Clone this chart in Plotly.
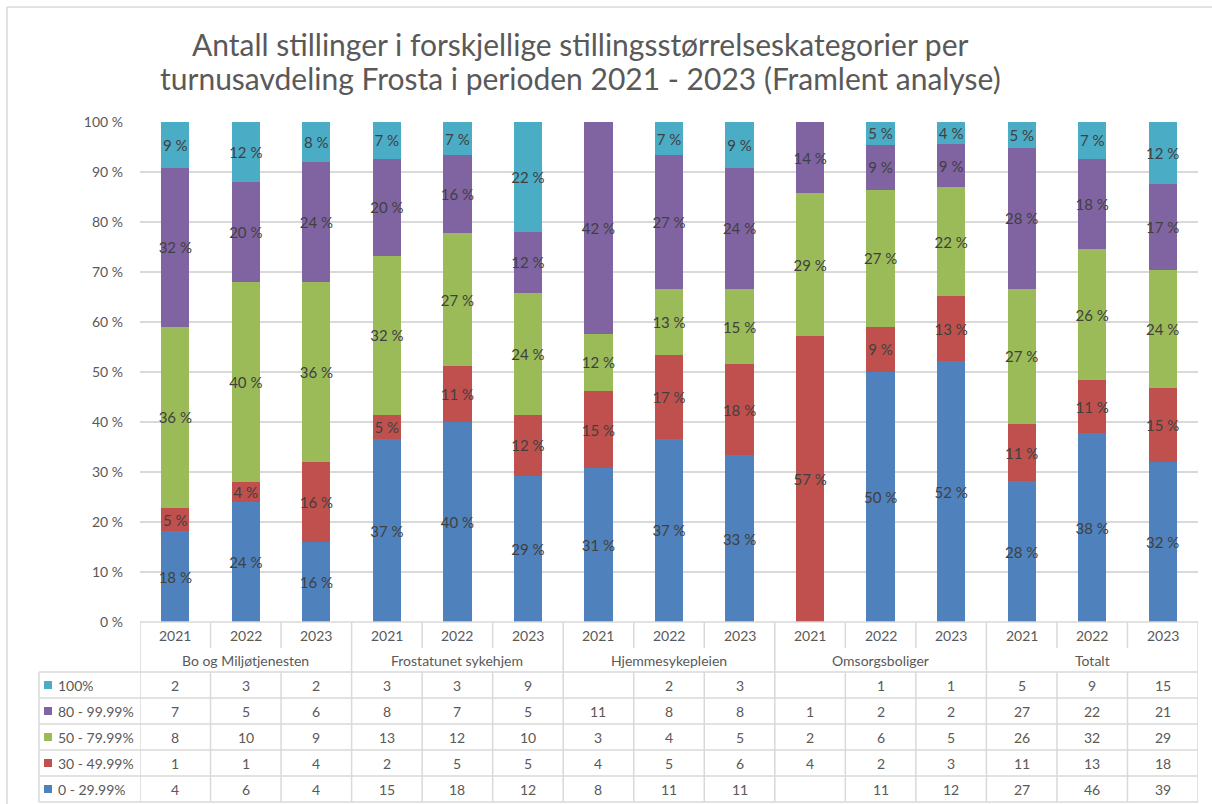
import plotly.graph_objects as go

# ---------------- data ----------------
groups = ["Bo og Miljøtjenesten", "Frostatunet sykehjem", "Hjemmesykepleien", "Omsorgsboliger", "Totalt"]
years = ["2021", "2022", "2023"]

series_names = ["100%", "80 - 99.99%", "50 - 79.99%", "30 - 49.99%", "0 - 29.99%"]
s_100 = [2, 3, 2, 3, 3, 9, None, 2, 3, None, 1, 1, 5, 9, 15]
s_80 = [7, 5, 6, 8, 7, 5, 11, 8, 8, 1, 2, 2, 27, 22, 21]
s_50 = [8, 10, 9, 13, 12, 10, 3, 4, 5, 2, 6, 5, 26, 32, 29]
s_30 = [1, 1, 4, 2, 5, 5, 4, 5, 6, 4, 2, 3, 11, 13, 18]
s_0 = [4, 6, 4, 15, 18, 12, 8, 11, 11, None, 11, 12, 27, 46, 39]
series_values = [s_100, s_80, s_50, s_30, s_0]
series_colors = ["#4BACC6", "#8064A2", "#9BBB59", "#C0504D", "#4F81BD"]

y_ticks = list(range(0, 101, 10))

# ---------------- geometry helpers ----------------
W, H = 1212, 804
L, R, T, B = 140, 1198, 122, 622
PW, PH = R - L, B - T


def px(xp):
    return (xp - L) / PW


def py(yp):
    return (B - yp) / PH


cats = [f"{g} {y}" for g in groups for y in years]
xpos = list(range(len(cats)))
totals = [sum(v[i] or 0 for v in series_values) for i in xpos]

FONT = "Lato"
GRAY = "#595959"
LINE = "#d9d9d9"

fig = go.Figure()
# stack from bottom: 0-29.99 first
for name, vals, col in reversed(list(zip(series_names, series_values, series_colors))):
    texts = []
    for i, v in enumerate(vals):
        if v:
            texts.append(f"{round(v / totals[i] * 100):.0f} %")
        else:
            texts.append("")
    fig.add_trace(go.Bar(
        x=xpos, y=[v if v is not None else 0 for v in vals], name=name,
        marker=dict(color=col, line=dict(width=0)),
        text=texts, textposition="inside", insidetextanchor="middle",
        textangle=0, textfont=dict(family=FONT, size=15, color="#404040"),
        cliponaxis=False, hoverinfo="skip",
    ))

fig.update_layout(
    width=W, height=H,
    margin=dict(l=L, r=W - R, t=T, b=H - B),
    barmode="stack", barnorm="percent", bargap=0.6,
    plot_bgcolor="white", paper_bgcolor="white",
    showlegend=False,
    uniformtext=dict(minsize=15, mode="show"),
    font=dict(family=FONT, size=14, color=GRAY),
)
fig.update_xaxes(range=[-0.5, len(cats) - 0.5], showticklabels=False, showgrid=False,
                 zeroline=False, showline=False, ticks="")
fig.update_yaxes(range=[0, 100.01], tickvals=y_ticks, ticktext=[f"{v} %" for v in y_ticks],
                 showgrid=True, gridcolor=LINE, gridwidth=1.5, zeroline=False,
                 showline=False, ticks="", ticklabelstandoff=16,
                 tickfont=dict(family=FONT, size=14, color=GRAY))

shapes = []
annotations = []


def hline(y, x0p, x1p):
    shapes.append(dict(type="line", xref="paper", yref="paper", x0=px(x0p), x1=px(x1p),
                       y0=py(y), y1=py(y), line=dict(color=LINE, width=1.5)))


def vline_x(xv, y0, y1):
    shapes.append(dict(type="line", xref="x", yref="paper", x0=xv, x1=xv,
                       y0=py(y0), y1=py(y1), line=dict(color=LINE, width=1.5)))


# axis line and table rows
hline(B, L, R)
row_lines = [672, 698, 724, 750, 776, 802]
for yl in row_lines:
    hline(yl, 39, R)
# legend column left border
shapes.append(dict(type="line", xref="paper", yref="paper", x0=px(39), x1=px(39),
                   y0=py(672), y1=py(802), line=dict(color=LINE, width=1.5)))
# vertical separators
n = len(cats)
for k in range(n + 1):
    xv = k - 0.5
    if k % len(years) == 0:
        vline_x(xv, B, 802)
    else:
        vline_x(xv, B, 648)
        vline_x(xv, 672, 802)

# year labels
for i in xpos:
    annotations.append(dict(x=i, y=py(635), xref="x", yref="paper", text=years[i % len(years)],
                            showarrow=False, xanchor="center", yanchor="middle",
                            font=dict(family=FONT, size=14, color=GRAY)))
# group labels
for gi, g in enumerate(groups):
    annotations.append(dict(x=gi * len(years) + (len(years) - 1) / 2, y=py(660), xref="x", yref="paper",
                            text=g, showarrow=False, xanchor="center", yanchor="middle",
                            font=dict(family=FONT, size=14, color=GRAY)))
# data rows
row_centers = [685, 711, 737, 763, 789]
for r, (name, vals, col) in enumerate(zip(series_names, series_values, series_colors)):
    yc = row_centers[r]
    shapes.append(dict(type="rect", xref="paper", yref="paper", x0=px(44), x1=px(52),
                       y0=py(yc + 4), y1=py(yc - 4), fillcolor=col, line=dict(width=0)))
    annotations.append(dict(x=px(56), y=py(yc), xref="paper", yref="paper", text=name,
                            showarrow=False, xanchor="left", yanchor="middle",
                            font=dict(family=FONT, size=14, color=GRAY)))
    for i, v in enumerate(vals):
        if v is None:
            continue
        annotations.append(dict(x=i, y=py(yc), xref="x", yref="paper", text=str(v),
                                showarrow=False, xanchor="center", yanchor="middle",
                                font=dict(family=FONT, size=14, color=GRAY)))

# title
title_lines = ["Antall stillinger i forskjellige stillingsstørrelseskategorier per",
               "turnusavdeling Frosta i perioden 2021 - 2023 (Framlent analyse)"]
for t_text, ty in zip(title_lines, [44, 78]):
    annotations.append(dict(x=px(580), y=py(ty), xref="paper", yref="paper", text=t_text,
                            showarrow=False, xanchor="center", yanchor="middle",
                            font=dict(family=FONT, size=30, color=GRAY)))

# chart area border (top and left visible)
shapes.append(dict(type="line", xref="paper", yref="paper", x0=px(7), x1=px(1212),
                   y0=py(7), y1=py(7), line=dict(color=LINE, width=1.5)))
shapes.append(dict(type="line", xref="paper", yref="paper", x0=px(7), x1=px(7),
                   y0=py(7), y1=py(804), line=dict(color=LINE, width=1.5)))

fig.update_layout(shapes=shapes, annotations=annotations)
fig.write_html("out.html", config={"displayModeBar": False},
               post_script="document.body.style.margin='0';document.body.style.overflow='hidden';")
